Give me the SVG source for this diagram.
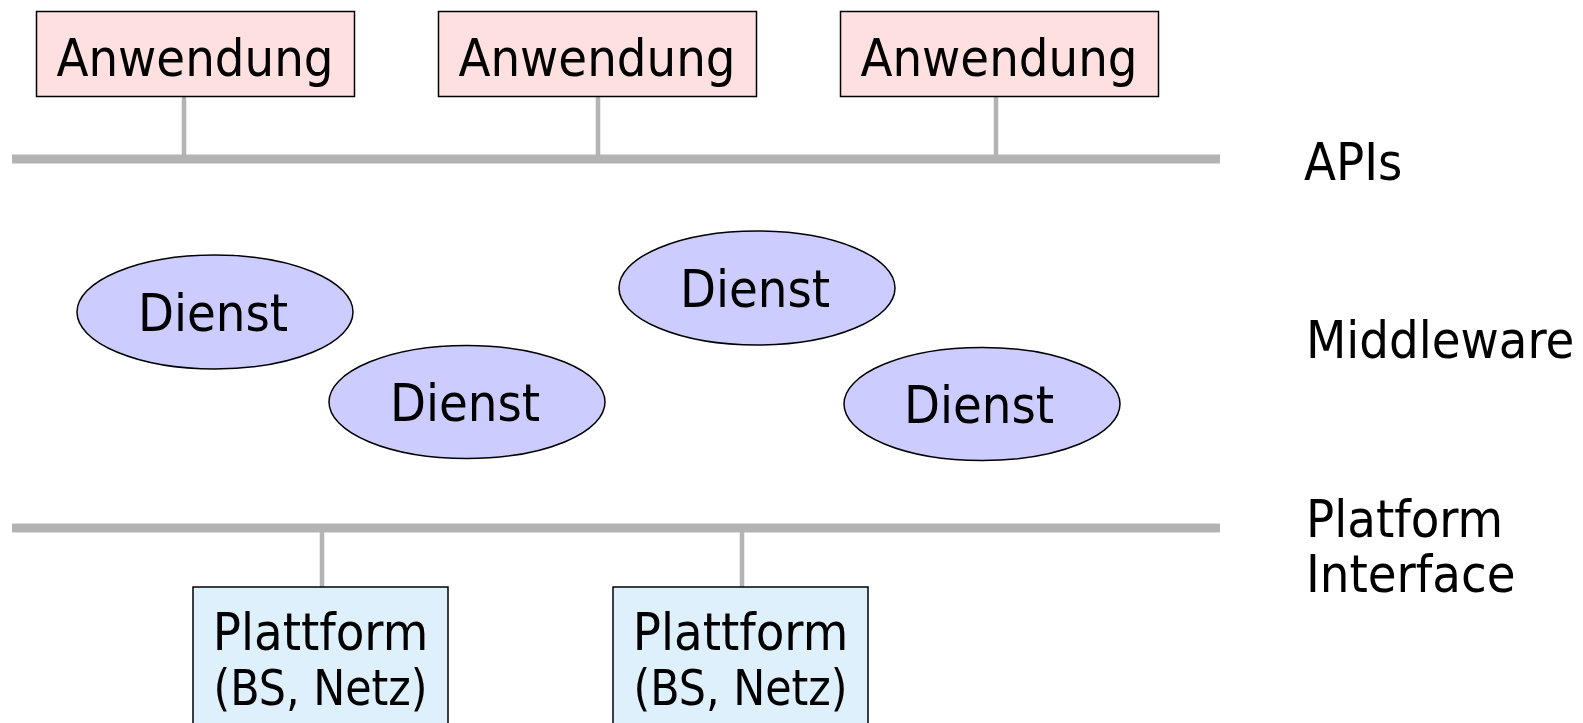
<svg xmlns="http://www.w3.org/2000/svg" width="1583" height="723" viewBox="0 0 1583 723">
<style>
text{font-family:"DejaVu Sans Condensed","Liberation Sans",sans-serif;font-size:52px;fill:#000}
.c{text-anchor:middle}
.app{fill:#FFE0E0;stroke:#000;stroke-width:1.5}
.svc{fill:#CCCCFF;stroke:#000;stroke-width:1.5}
.plat{fill:#DDF0FC;stroke:#000;stroke-width:1.5}
.bus{stroke:#B3B3B3;stroke-width:9;fill:none}
.stub{stroke:#B3B3B3;stroke-width:4.5;fill:none}
.sub{font-size:50px}
</style>
<rect width="1583" height="723" fill="#fff"/>
<g id="connectors">
<line class="bus" x1="12" y1="159" x2="1220" y2="159"/>
<line class="bus" x1="12" y1="528" x2="1220" y2="528"/>
<line class="stub" x1="184" y1="97" x2="184" y2="155"/>
<line class="stub" x1="598" y1="97" x2="598" y2="155"/>
<line class="stub" x1="996" y1="97" x2="996" y2="155"/>
<line class="stub" x1="322" y1="532" x2="322" y2="587"/>
<line class="stub" x1="742" y1="532" x2="742" y2="587"/>
</g>
<g id="app1"><rect class="app" x="36.5" y="11.5" width="318" height="85"/><text class="c" x="195" y="76">Anwendung</text></g>
<g id="app2"><rect class="app" x="438.5" y="11.5" width="318" height="85"/><text class="c" x="597" y="76">Anwendung</text></g>
<g id="app3"><rect class="app" x="840.5" y="11.5" width="318" height="85"/><text class="c" x="999" y="76">Anwendung</text></g>
<g id="svc1"><ellipse class="svc" cx="215" cy="312" rx="138" ry="57"/><text class="c" x="213" y="331">Dienst</text></g>
<g id="svc2"><ellipse class="svc" cx="467" cy="402" rx="138" ry="56.5"/><text class="c" x="465" y="421">Dienst</text></g>
<g id="svc3"><ellipse class="svc" cx="757" cy="288" rx="138" ry="57"/><text class="c" x="755" y="307">Dienst</text></g>
<g id="svc4"><ellipse class="svc" cx="982" cy="404" rx="138" ry="56.5"/><text class="c" x="979" y="423">Dienst</text></g>
<g id="plat1"><rect class="plat" x="193" y="587" width="255" height="150"/><text class="c" x="320.5" y="650">Plattform</text><text class="c sub" x="320.5" y="705" textLength="214" lengthAdjust="spacingAndGlyphs">(BS, Netz)</text></g>
<g id="plat2"><rect class="plat" x="613" y="587" width="255" height="150"/><text class="c" x="740.5" y="650">Plattform</text><text class="c sub" x="740.5" y="705" textLength="214" lengthAdjust="spacingAndGlyphs">(BS, Netz)</text></g>
<g id="labels">
<text x="1304" y="180">APIs</text>
<text x="1306" y="358">Middleware</text>
<text x="1306" y="537">Platform</text>
<text x="1306" y="592">Interface</text>
</g>
</svg>
